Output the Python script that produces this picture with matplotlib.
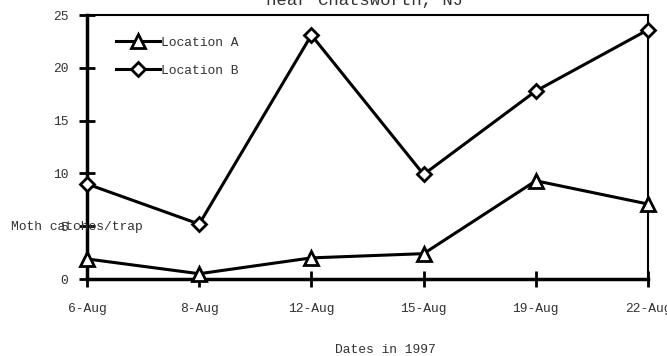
import matplotlib
matplotlib.use("Agg")
import matplotlib.pyplot as plt
from matplotlib.lines import Line2D

dates = ["6-Aug", "8-Aug", "12-Aug", "15-Aug", "19-Aug", "22-Aug"]
loc_a = [1.9, 0.5, 2.0, 2.4, 9.3, 7.1]
loc_b = [9.0, 5.2, 23.1, 9.9, 17.8, 23.6]
yticks = [0, 5, 10, 15, 20, 25]

plt.rcParams['font.family'] = ['Liberation Mono', 'DejaVu Sans Mono']
TC = '#333333'
FS = 9.4

W, H = 667, 356
fig = plt.figure(figsize=(W/100, H/100), dpi=100)
ax = fig.add_axes([87/W, 1-279/H, (648-87)/W, (279-15)/H])

x = list(range(len(dates)))
sty_a = dict(color='black', lw=2.2, marker='^', ms=10, mfc='white', mec='black', mew=2)
sty_b = dict(color='black', lw=2.2, marker='D', ms=7.5, mfc='white', mec='black', mew=2)
ax.plot(x, loc_a, clip_on=False, zorder=3, **sty_a)
ax.plot(x, loc_b, clip_on=False, zorder=3, **sty_b)

ax.set_xlim(0, len(dates)-1)
ax.set_ylim(0, 25)
ax.set_xticks(x)
ax.set_xticklabels(dates, fontsize=FS, color=TC)
ax.set_yticks(yticks)
ax.set_yticklabels([str(v) for v in yticks], fontsize=FS, color=TC)
ax.tick_params(direction='inout', length=11, width=2, pad=8)
ax.tick_params(axis='x', pad=12)
for s in ['left', 'bottom']:
    ax.spines[s].set_linewidth(2.5)
for s in ['top', 'right']:
    ax.spines[s].set_linewidth(1.5)

fig.text(11/W, 1-227/H, "Moth catches/trap", fontsize=FS, va='center', ha='left', color=TC)
fig.text(385/W, 1-350/H, "Dates in 1997", fontsize=FS, va='center', ha='center', color=TC)
fig.text(365/W, 1-1/H, "near Chatsworth, NJ", fontsize=12.5, va='center', ha='center', color=TC)

handles = [Line2D([0], [0], **sty_a), Line2D([0], [0], **sty_b)]
leg = ax.legend(handles, ["Location A", "Location B"], loc='upper left',
                bbox_to_anchor=(0.043, 0.937), frameon=False, fontsize=FS,
                handlelength=3.35, handletextpad=0.1, labelspacing=1.2,
                borderaxespad=0.0)
for t in leg.get_texts():
    t.set_color(TC)

fig.savefig("out.png", dpi=100)
